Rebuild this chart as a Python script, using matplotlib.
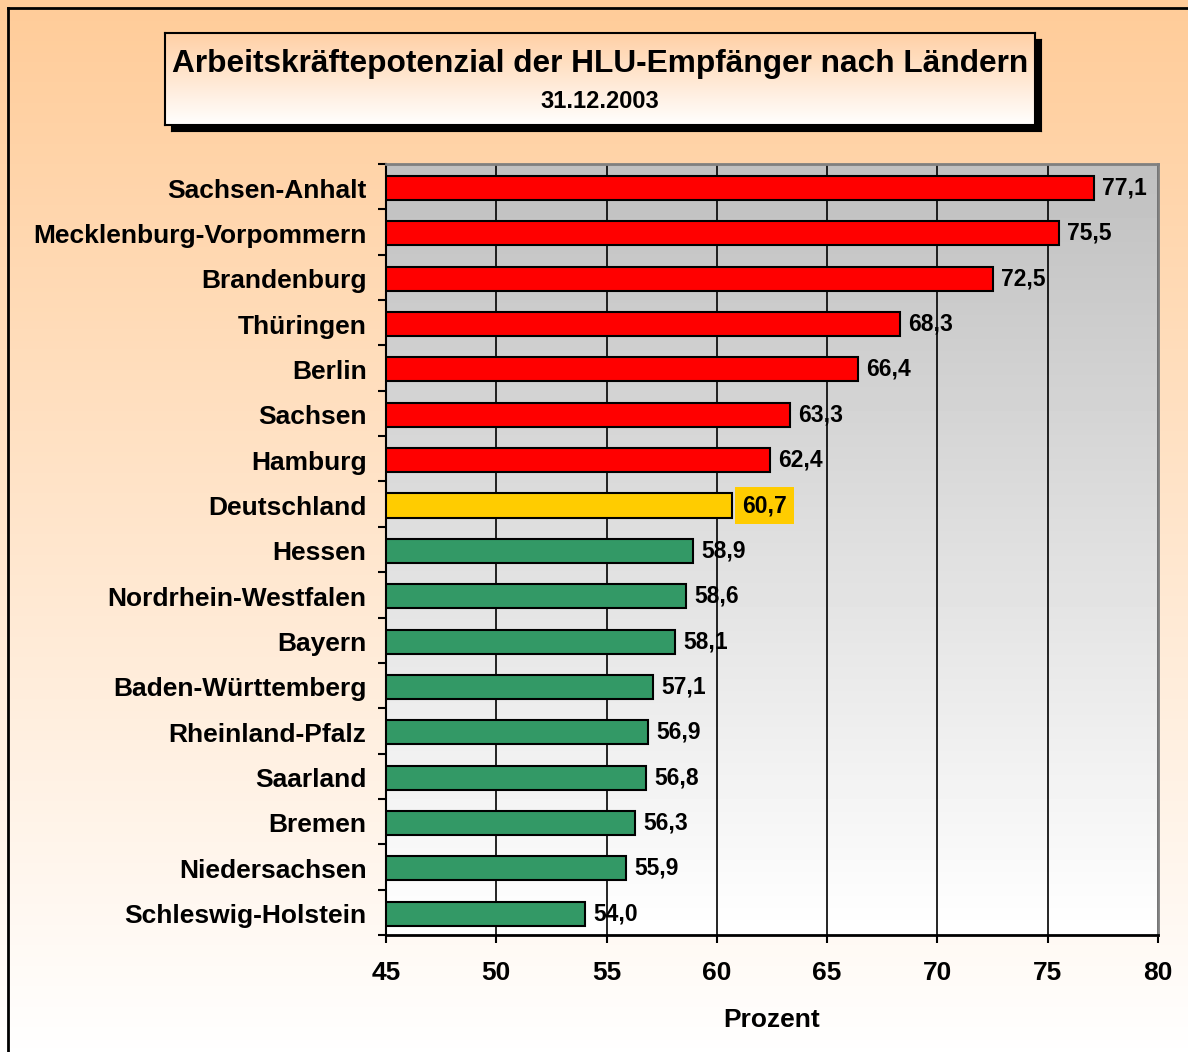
import numpy as np
import matplotlib
matplotlib.use('Agg')
import matplotlib.pyplot as plt
from matplotlib.lines import Line2D

############################################################################
#                               Data
############################################################################

laender = ['Sachsen-Anhalt', 'Mecklenburg-Vorpommern', 'Brandenburg', 'Thüringen',
           'Berlin', 'Sachsen', 'Hamburg', 'Deutschland', 'Hessen',
           'Nordrhein-Westfalen', 'Bayern', 'Baden-Württemberg', 'Rheinland-Pfalz',
           'Saarland', 'Bremen', 'Niedersachsen', 'Schleswig-Holstein']
prozent = [77.1, 75.5, 72.5, 68.3, 66.4, 63.3, 62.4, 60.7, 58.9,
           58.6, 58.1, 57.1, 56.9, 56.8, 56.3, 55.9, 54.0]
gruppe  = ['hoch'] * 7 + ['bund'] + ['niedrig'] * 9

x_ticks = [45, 50, 55, 60, 65, 70, 75, 80]

titel  = 'Arbeitskräftepotenzial der HLU-Empfänger nach Ländern'
datum  = '31.12.2003'
xlabel = 'Prozent'

farben = {'hoch': '#FF0000', 'bund': '#FFCC00', 'niedrig': '#339966'}

plt.rcParams['font.family'] = ['Liberation Sans', 'DejaVu Sans']
plt.rcParams['font.weight'] = 'bold'

W, H = 1188, 1052
fig = plt.figure(figsize=(W / 100, H / 100), dpi=100)

def px(x0, y0, x1, y1):
    # pixel box (top-left origin) -> figure fraction rect
    return [x0 / W, 1 - y1 / H, (x1 - x0) / W, (y1 - y0) / H]

############################################################################
#                               Backgrounds
############################################################################

bg = fig.add_axes([0, 0, 1, 1], zorder=-10)
t = np.linspace(0, 1, 256)[:, None]
peach = np.array([255, 204, 153]) / 255.
grad = peach[None, None, :] * (1 - t[..., None]) + np.ones(3)[None, None, :] * t[..., None]
bg.imshow(grad, aspect='auto', extent=[0, 1, 0, 1], origin='upper')
bg.set_axis_off()

# frame lines (left / top)
fig.add_artist(Line2D([8 / W, 8 / W], [0, 1 - 8 / H], color='black', lw=2, transform=fig.transFigure))
fig.add_artist(Line2D([8 / W, 1], [1 - 8 / H, 1 - 8 / H], color='black', lw=2, transform=fig.transFigure))

# title box with shadow
sh = fig.add_axes(px(171, 39, 1041, 131), zorder=1)
sh.set_facecolor('black')
sh.set_xticks([]); sh.set_yticks([])

tb = fig.add_axes(px(165, 33, 1035, 125), zorder=2)
tt = np.linspace(0, 1, 256)[:, None]
top_c = np.array([255, 208, 165]) / 255.
g2 = top_c[None, None, :] * (1 - tt[..., None]) + np.ones(3)[None, None, :] * tt[..., None]
tb.imshow(g2, aspect='auto', extent=[0, 1, 0, 1], origin='upper')
tb.set_xticks([]); tb.set_yticks([])
for s in tb.spines.values():
    s.set_color('black')
    s.set_linewidth(1.5)
tb.text(0.5, 0.66, titel, ha='center', va='center', fontsize=22.8, fontweight='bold', transform=tb.transAxes)
tb.text(0.5, 0.26, datum, ha='center', va='center', fontsize=17, fontweight='bold', transform=tb.transAxes)

############################################################################
#                               Bars
############################################################################

ax = fig.add_axes(px(386, 164, 1158, 935), zorder=3)
y = np.arange(len(laender))

ax.imshow(np.linspace(0.753, 1.0, 256)[:, None], cmap='gray', vmin=0, vmax=1,
          aspect='auto', extent=[45, 80, len(laender) - 0.5, -0.5], zorder=0)

cols = [farben[g] for g in gruppe]
ax.barh(y + 0.03, np.array(prozent) - 45, left=45, height=0.53, color=cols,
        edgecolor='black', linewidth=1.5, zorder=3)

for yi, v, g in zip(y, prozent, gruppe):
    lbl = ('%.1f' % v).replace('.', ',')
    kw = {}
    off = 6
    if g == 'bund':
        kw['bbox'] = dict(boxstyle='square,pad=0.3', facecolor=farben['bund'], edgecolor='none')
        off = 7
    ax.annotate(lbl, (v, yi + 0.03), xytext=(off, 0), textcoords='offset points',
                ha='left', va='center', fontsize=16.5, fontweight='bold', zorder=5, **kw)

ax.set_xlim(45, 80)
ax.set_ylim(len(laender) - 0.5, -0.5)
ax.set_xticks(x_ticks)
ax.set_xticklabels([str(v) for v in x_ticks])
ax.set_yticks(y + 0.03)
ax.set_yticklabels(laender)
ax.set_yticks(np.arange(len(laender) + 1) - 0.5, minor=True)

ax.set_axisbelow(True)
ax.grid(axis='x', color='black', linewidth=1.2)
ax.grid(axis='y', visible=False)

ax.tick_params(axis='y', which='major', length=0, pad=14, labelsize=19)
ax.tick_params(axis='y', which='minor', length=6, width=1.5, direction='out')
ax.tick_params(axis='x', which='major', length=6, width=1.5, direction='out', pad=13, labelsize=19)
for lab in ax.get_xticklabels() + ax.get_yticklabels():
    lab.set_fontweight('bold')

ax.spines['left'].set_color('black')
ax.spines['left'].set_linewidth(1.5)
ax.spines['bottom'].set_color('black')
ax.spines['bottom'].set_linewidth(2)
ax.spines['top'].set_color('#808080')
ax.spines['top'].set_linewidth(2)
ax.spines['right'].set_color('#808080')
ax.spines['right'].set_linewidth(2)

ax.set_xlabel(xlabel, fontsize=19, fontweight='bold', labelpad=16)

fig.savefig('out.png', dpi=100)
